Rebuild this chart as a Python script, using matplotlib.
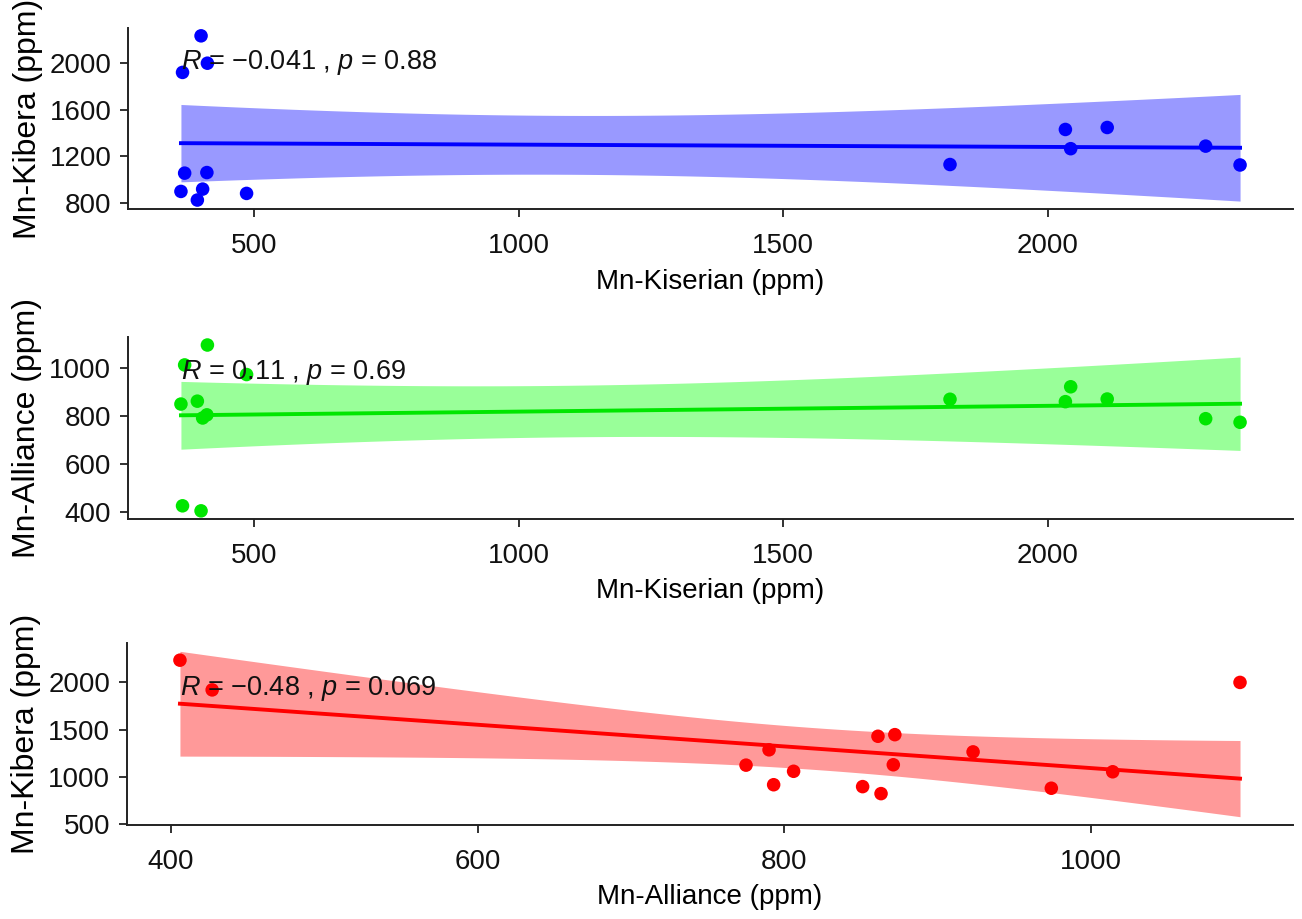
import numpy as np
import matplotlib
matplotlib.use("Agg")
import matplotlib.pyplot as plt
from matplotlib.ticker import MultipleLocator

plt.rcParams['font.family'] = ['Liberation Sans', 'DejaVu Sans']
plt.rcParams['mathtext.fontset'] = 'custom'
plt.rcParams['mathtext.rm'] = 'Liberation Sans'
plt.rcParams['mathtext.it'] = 'Liberation Sans:italic'

# Mn concentrations (ppm) for the 15 samples at each site
kiserian = [362, 365, 369, 393, 400, 403, 411, 412, 486,
            1815, 2033, 2043, 2112, 2298, 2363]
kibera = [899, 1921, 1056, 825, 2235, 919, 1061, 2000, 882,
          1130, 1431, 1266, 1448, 1288, 1126]
alliance = [851, 427, 1014, 863, 406, 793, 806, 1097, 974,
            871, 861, 923, 872, 790, 775]

r_labels = ["\u22120.041", "0.11", "\u22120.48"]
p_labels = ["0.88", "0.69", "0.069"]

T_975_DF13 = 2.160369  # t quantile for the 95% band (n = 15)

panels = [
    (kiserian, kibera, "#0000FF", "#9999FF", "Mn-Kiserian (ppm)", "Mn-Kibera (ppm)", 500, 400),
    (kiserian, alliance, "#00E600", "#99FF99", "Mn-Kiserian (ppm)", "Mn-Alliance (ppm)", 500, 200),
    (alliance, kibera, "#FF0000", "#FF9999", "Mn-Alliance (ppm)", "Mn-Kibera (ppm)", 200, 500),
]
label_pos = [0.81, 0.806, 0.75]
axes_boxes = [
    [0.0983, 0.7722, 0.8948, 0.1978],
    [0.0983, 0.4351, 0.8948, 0.1985],
    [0.0975, 0.1023, 0.8956, 0.1980],
]


def lm_band(x, y, n_grid=80):
    x = np.asarray(x, float)
    y = np.asarray(y, float)
    n = len(x)
    slope, intercept = np.polyfit(x, y, 1)
    resid = y - (slope * x + intercept)
    s = np.sqrt(np.sum(resid ** 2) / (n - 2))
    sxx = np.sum((x - x.mean()) ** 2)
    xg = np.linspace(x.min(), x.max(), n_grid)
    yg = slope * xg + intercept
    se = s * np.sqrt(1.0 / n + (xg - x.mean()) ** 2 / sxx)
    return xg, yg, yg - T_975_DF13 * se, yg + T_975_DF13 * se


fig = plt.figure(figsize=(13.02, 9.19), dpi=100)

for i, (xv, yv, col, band_col, xlab, ylab, xstep, ystep) in enumerate(panels):
    ax = fig.add_axes(axes_boxes[i])
    xg, yg, lo, hi = lm_band(xv, yv)
    ax.fill_between(xg, lo, hi, color=band_col, lw=0, zorder=1)
    ax.plot(xg, yg, color=col, lw=2.8, zorder=2)
    ax.scatter(xv, yv, s=95, color=col, edgecolors='none', zorder=3)
    ax.margins(x=0.05, y=0.05)

    ax.xaxis.set_major_locator(MultipleLocator(xstep))
    ax.yaxis.set_major_locator(MultipleLocator(ystep))
    for side in ['top', 'right']:
        ax.spines[side].set_visible(False)
    for side in ['left', 'bottom']:
        ax.spines[side].set_linewidth(1.4)
        ax.spines[side].set_color('#222222')
    ax.tick_params(axis='both', length=6, width=1.3, color='#222222',
                   labelsize=20, labelcolor='#111111')
    ax.tick_params(axis='x', pad=11)
    ax.tick_params(axis='y', pad=6)
    ax.set_xlabel(xlab, fontsize=20, labelpad=7)
    ax.set_ylabel(ylab, fontsize=23, labelpad=5)

    ax.text(min(xv), label_pos[i], rf"$R$ = {r_labels[i]} , $p$ = {p_labels[i]}",
            transform=ax.get_xaxis_transform(), fontsize=19.5,
            ha='left', va='center', color='#111111', zorder=4)

fig.savefig("out.png", dpi=100)
